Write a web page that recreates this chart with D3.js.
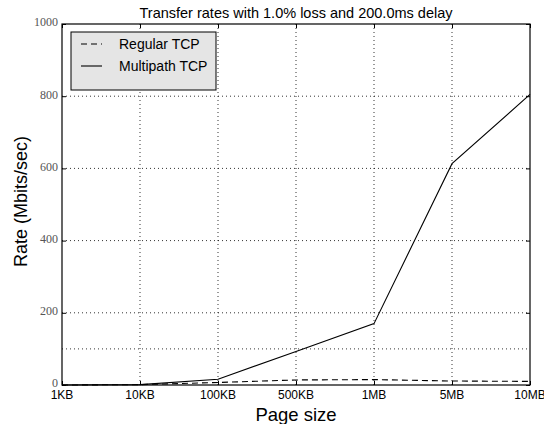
<!DOCTYPE html>
<meta charset="utf-8">
<style>

body {
  margin: 0;
  background: #fff;
  font: 12px "Liberation Sans", Arial, sans-serif;
}

.grid line {
  stroke: #000;
  stroke-width: 1;
  stroke-dasharray: 1,3;
  stroke-opacity: 0.8;
}

.frame {
  fill: none;
  stroke: #000;
  stroke-width: 1.2;
}

.line {
  fill: none;
  stroke: #000;
  stroke-width: 1.1;
}

.ytick {
  font-family: "Liberation Serif", "DejaVu Serif", serif;
  font-size: 12px;
  fill: #555;
}

</style>
<body>
<script src="https://d3js.org/d3.v7.min.js"></script>
<script>

var sizes = ["1KB", "10KB", "100KB", "500KB", "1MB", "5MB", "10MB"];
var regularTcp = [0, 1, 7, 14, 15, 11, 10];
var multipathTcp = [0, 1, 16, 93, 170, 613, 805];
var yTicks = [0, 200, 400, 600, 800, 1000];
var extraLines = [100];
var seriesNames = ["Regular TCP", "Multipath TCP"];

var margin = {top: 24, right: 14, bottom: 39, left: 62},
    width = 544 - margin.left - margin.right,
    height = 424 - margin.top - margin.bottom;

var svg = d3.select("body").append("svg")
    .attr("width", 544)
    .attr("height", 424)
  .append("g")
    .attr("transform", "translate(" + margin.left + "," + margin.top + ")");

var x = d3.scalePoint()
    .domain(sizes)
    .range([0, width]);

var y = d3.scaleLinear()
    .domain([0, 1000])
    .range([height, 0]);

// grid
var grid = svg.append("g").attr("class", "grid");

grid.selectAll(".vx")
    .data(sizes.slice(1, -1))
  .enter().append("line")
    .attr("x1", function(d) { return x(d) })
    .attr("x2", function(d) { return x(d) })
    .attr("y1", 0)
    .attr("y2", height);

grid.selectAll(".hy")
    .data(yTicks.slice(1, -1).concat(extraLines))
  .enter().append("line")
    .attr("x1", 0)
    .attr("x2", width)
    .attr("y1", function(d) { return y(d) })
    .attr("y2", function(d) { return y(d) });

// inward ticks on all sides
svg.append("g")
    .attr("transform", "translate(0," + height + ")")
    .call(d3.axisTop(x).tickSize(4).tickFormat(""))
    .call(function(g) { g.select(".domain").remove() });

svg.append("g")
    .call(d3.axisBottom(x).tickSize(4).tickFormat(""))
    .call(function(g) { g.select(".domain").remove() });

svg.append("g")
    .call(d3.axisRight(y).tickValues(yTicks).tickSize(4).tickFormat(""))
    .call(function(g) { g.select(".domain").remove() });

svg.append("g")
    .attr("transform", "translate(" + width + ",0)")
    .call(d3.axisLeft(y).tickValues(yTicks).tickSize(4).tickFormat(""))
    .call(function(g) { g.select(".domain").remove() });

// tick labels
svg.selectAll(".xtick")
    .data(sizes)
  .enter().append("text")
    .attr("x", function(d) { return x(d) })
    .attr("y", height + 14)
    .attr("text-anchor", "middle")
    .style("font-size", "12px")
    .text(function(d) { return d });

svg.selectAll(".ytick")
    .data(yTicks)
  .enter().append("text")
    .attr("class", "ytick")
    .attr("x", -4)
    .attr("y", function(d) { return y(d) })
    .attr("dy", "0.2em")
    .attr("text-anchor", "end")
    .text(function(d) { return d });

// lines
var lineGenerator = d3.line()
    .x(function(d, i) { return x(sizes[i]) })
    .y(function(d) { return y(d) });

svg.append("path")
    .datum(regularTcp)
    .attr("class", "line")
    .attr("stroke-dasharray", "6,4")
    .attr("d", lineGenerator);

svg.append("path")
    .datum(multipathTcp)
    .attr("class", "line")
    .attr("d", lineGenerator);

svg.append("rect")
    .attr("class", "frame")
    .attr("width", width)
    .attr("height", height);

// titles
svg.append("text")
    .attr("x", width / 2)
    .attr("y", -6)
    .attr("text-anchor", "middle")
    .style("font-size", "14.5px")
    .text("Transfer rates with 1.0% loss and 200.0ms delay");

svg.append("text")
    .attr("x", width / 2)
    .attr("y", height + 36)
    .attr("text-anchor", "middle")
    .style("font-size", "18.5px")
    .text("Page size");

svg.append("text")
    .attr("transform", "translate(-35," + (height / 2 - 3) + ") rotate(-90)")
    .attr("text-anchor", "middle")
    .style("font-size", "18px")
    .text("Rate (Mbits/sec)");

// legend
var legend = svg.append("g")
    .attr("transform", "translate(9,8)");

legend.append("rect")
    .attr("width", 145)
    .attr("height", 58)
    .attr("fill", "#e5e5e5")
    .attr("stroke", "#000")
    .attr("stroke-width", 1);

var entry = legend.selectAll(".entry")
    .data(seriesNames)
  .enter().append("g")
    .attr("transform", function(d, i) { return "translate(0," + (12 + i * 22) + ")" });

entry.append("line")
    .attr("x1", 10)
    .attr("x2", 31)
    .attr("stroke", "#000")
    .attr("stroke-width", 1.1)
    .attr("stroke-dasharray", function(d, i) { return i == 0 ? "6,4" : null });

entry.append("text")
    .attr("x", 48)
    .attr("dy", "0.35em")
    .style("font-size", "14px")
    .text(function(d) { return d });

</script>
